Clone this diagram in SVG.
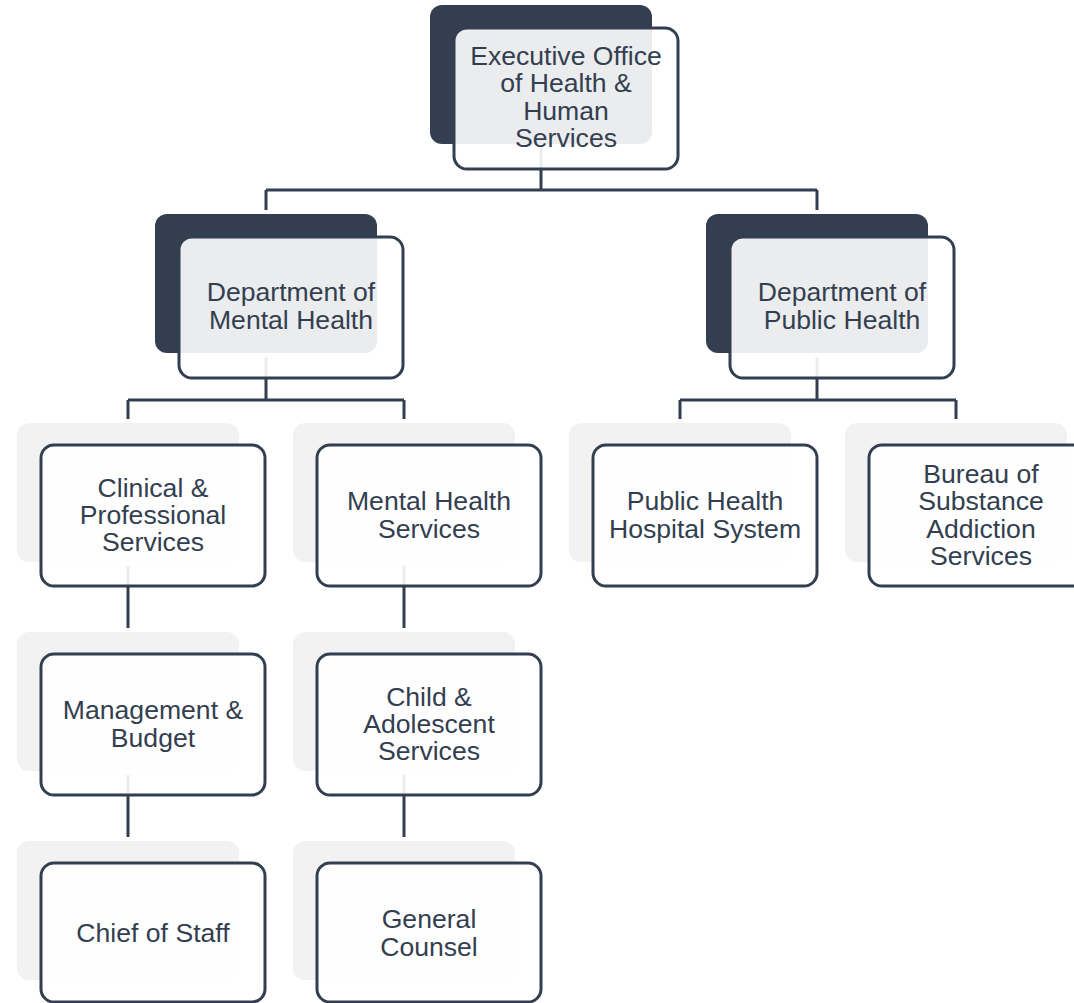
<svg xmlns="http://www.w3.org/2000/svg" width="1074" height="1003" viewBox="0 0 1074 1003">
<style>
.bg{fill:#ffffff}
.dark{fill:#333f50}
.light{fill:#f2f2f2}
.front{fill:#ffffff;fill-opacity:0.9;stroke:#333f50;stroke-width:3}
.conn{fill:none;stroke:#333f50;stroke-width:3}
text{font-family:"Liberation Sans",Arial,sans-serif;font-size:26.6px;fill:#333f50;text-anchor:middle}
</style>
<rect class="bg" x="0" y="0" width="1074" height="1003"/>
<g id="connectors">
<path class="conn" d="M541 148V190M266 190H817M266 190V210M817 190V210"/>
<path class="conn" d="M266 357V400M128 400H404M128 400V419M404 400V419"/>
<path class="conn" d="M817 357V400M680 400H956M680 400V419M956 400V419"/>
<path class="conn" d="M128 566V628M404 566V628M128 775V837M404 775V837"/>
</g>
<g id="n-exec">
<rect class="dark" x="430" y="5" width="222" height="139" rx="12"/>
<rect class="front" x="454" y="28" width="224" height="141" rx="13"/>
<text x="566" y="65">Executive Office</text>
<text x="566" y="92.3">of Health &amp;</text>
<text x="566" y="119.6">Human</text>
<text x="566" y="146.9">Services</text>
</g>
<g id="n-dmh">
<rect class="dark" x="155" y="214" width="222" height="139" rx="12"/>
<rect class="front" x="179" y="237" width="224" height="141" rx="13"/>
<text x="291" y="301.4">Department of</text>
<text x="291" y="328.7">Mental Health</text>
</g>
<g id="n-dph">
<rect class="dark" x="706" y="214" width="222" height="139" rx="12"/>
<rect class="front" x="730" y="237" width="224" height="141" rx="13"/>
<text x="842" y="301.4">Department of</text>
<text x="842" y="328.7">Public Health</text>
</g>
<g id="n-clinical">
<rect class="light" x="17" y="423" width="222" height="139" rx="12"/>
<rect class="front" x="41" y="445" width="224" height="141" rx="13"/>
<text x="153" y="496.7">Clinical &amp;</text>
<text x="153" y="524">Professional</text>
<text x="153" y="551.3">Services</text>
</g>
<g id="n-mhs">
<rect class="light" x="293" y="423" width="222" height="139" rx="12"/>
<rect class="front" x="317" y="445" width="224" height="141" rx="13"/>
<text x="429" y="510.4">Mental Health</text>
<text x="429" y="537.7">Services</text>
</g>
<g id="n-phhs">
<rect class="light" x="569" y="423" width="222" height="139" rx="12"/>
<rect class="front" x="593" y="445" width="224" height="141" rx="13"/>
<text x="705" y="510.4">Public Health</text>
<text x="705" y="537.7">Hospital System</text>
</g>
<g id="n-bsas">
<rect class="light" x="845" y="423" width="222" height="139" rx="12"/>
<rect class="front" x="869" y="445" width="224" height="141" rx="13"/>
<text x="981" y="483">Bureau of</text>
<text x="981" y="510.4">Substance</text>
<text x="981" y="537.7">Addiction</text>
<text x="981" y="565">Services</text>
</g>
<g id="n-mgmt">
<rect class="light" x="17" y="632" width="222" height="139" rx="12"/>
<rect class="front" x="41" y="654" width="224" height="141" rx="13"/>
<text x="153" y="719.4">Management &amp;</text>
<text x="153" y="746.7">Budget</text>
</g>
<g id="n-cas">
<rect class="light" x="293" y="632" width="222" height="139" rx="12"/>
<rect class="front" x="317" y="654" width="224" height="141" rx="13"/>
<text x="429" y="705.7">Child &amp;</text>
<text x="429" y="733">Adolescent</text>
<text x="429" y="760.3">Services</text>
</g>
<g id="n-cos">
<rect class="light" x="17" y="841" width="222" height="139" rx="12"/>
<rect class="front" x="41" y="863" width="224" height="139" rx="13"/>
<text x="153" y="942">Chief of Staff</text>
</g>
<g id="n-gc">
<rect class="light" x="293" y="841" width="222" height="139" rx="12"/>
<rect class="front" x="317" y="863" width="224" height="139" rx="13"/>
<text x="429" y="928.4">General</text>
<text x="429" y="955.7">Counsel</text>
</g>
</svg>
